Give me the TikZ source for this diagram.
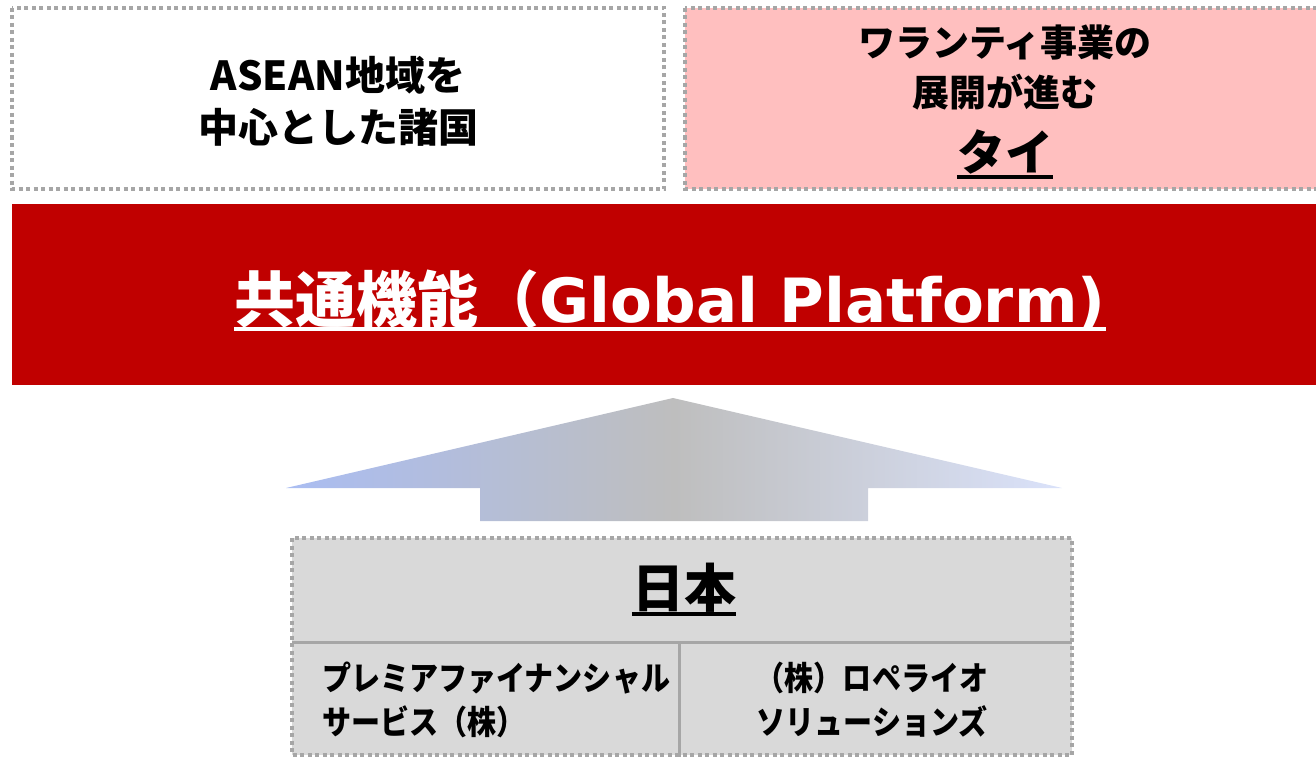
\documentclass[tikz,border=0pt]{standalone}
\usepackage{fontspec}
\newfontfamily\jp{Noto Sans CJK JP}
\newfontfamily\jpn{Noto Sans CJK JP}[FakeStretch=0.88]
\newfontfamily\dv{DejaVu Sans}
\definecolor{dotgray}{HTML}{A6A6A6}
\definecolor{pinkfill}{HTML}{FFBFBF}
\definecolor{redbar}{HTML}{C00000}
\definecolor{cellgray}{HTML}{D9D9D9}
\definecolor{arrL}{HTML}{AABDF2}
\definecolor{arrM}{HTML}{BEBEBE}
\definecolor{arrR}{HTML}{DAE2FA}
\tikzset{
  dotbox/.style={draw=dotgray, line width=4pt, dash pattern=on 4pt off 3.5pt},
  jtext/.style={font=\jp\bfseries, align=center, inner sep=0pt, text=black},
}
\begin{document}
\begin{tikzpicture}[x=1pt,y=-1pt]
\useasboundingbox (0,0) rectangle (1316,757);
% top boxes
\path[fill=white, dotbox] (12,8) rectangle (664,189);
\path[fill=pinkfill, dotbox] (685,8) rectangle (1330,189);
\node[jtext, font=\jp\bfseries\fontsize{40}{52}\selectfont] (asean) at (338,101) {ASEAN地域を\\中心とした諸国};
\node[jtext, font=\jp\bfseries\fontsize{37}{50}\selectfont] (warr) at (1005,67) {ワランティ事業の\\展開が進む};
\node[jtext, font=\jp\bfseries\fontsize{48}{50}\selectfont, anchor=base] (tai) at (1005,170) {タイ};
\draw[line width=3.5pt] ([yshift=-7pt]tai.base west) -- ([yshift=-7pt]tai.base east);
% red bar
\fill[redbar] (12,204) rectangle (1316,385);
\node[inner sep=0pt, text=white, font=\bfseries\fontsize{61}{64}\selectfont, anchor=base] (gp) at (670,322) {{\jp 共通機能（}{\dv Global Platform)}};
\draw[white, line width=4pt] ([yshift=-7pt]gp.base west) -- ([yshift=-7pt]gp.base east);
% arrow
\shade[left color=arrL, right color=arrR, middle color=arrM]
  (673,398) -- (1062,488) -- (868,488) -- (868,521) -- (480,521) -- (480,488) -- (286,488) -- cycle;
% bottom box
\path[fill=cellgray] (292,538) rectangle (1072,755);
\draw[dotgray, line width=3pt] (292,642) -- (1072,642);
\draw[dotgray, line width=3pt] (679,642) -- (679,757);
\path[dotbox] (292,538) rectangle (1072,755);
\node[jtext, font=\jp\bfseries\fontsize{52}{56}\selectfont, anchor=base] (jp) at (684,607) {日本};
\draw[line width=3.5pt] ([yshift=-7pt]jp.base west) -- ([yshift=-7pt]jp.base east);
\node[jtext, align=left, anchor=west, font=\jpn\bfseries\fontsize{33}{44}\selectfont] (pfs) at (322,700) {プレミアファイナンシャル\\サービス（株）};
\node[jtext, font=\jpn\bfseries\fontsize{33}{44}\selectfont] (rop) at (872,700) {（株）ロペライオ\\ソリューションズ};
\end{tikzpicture}
\end{document}
